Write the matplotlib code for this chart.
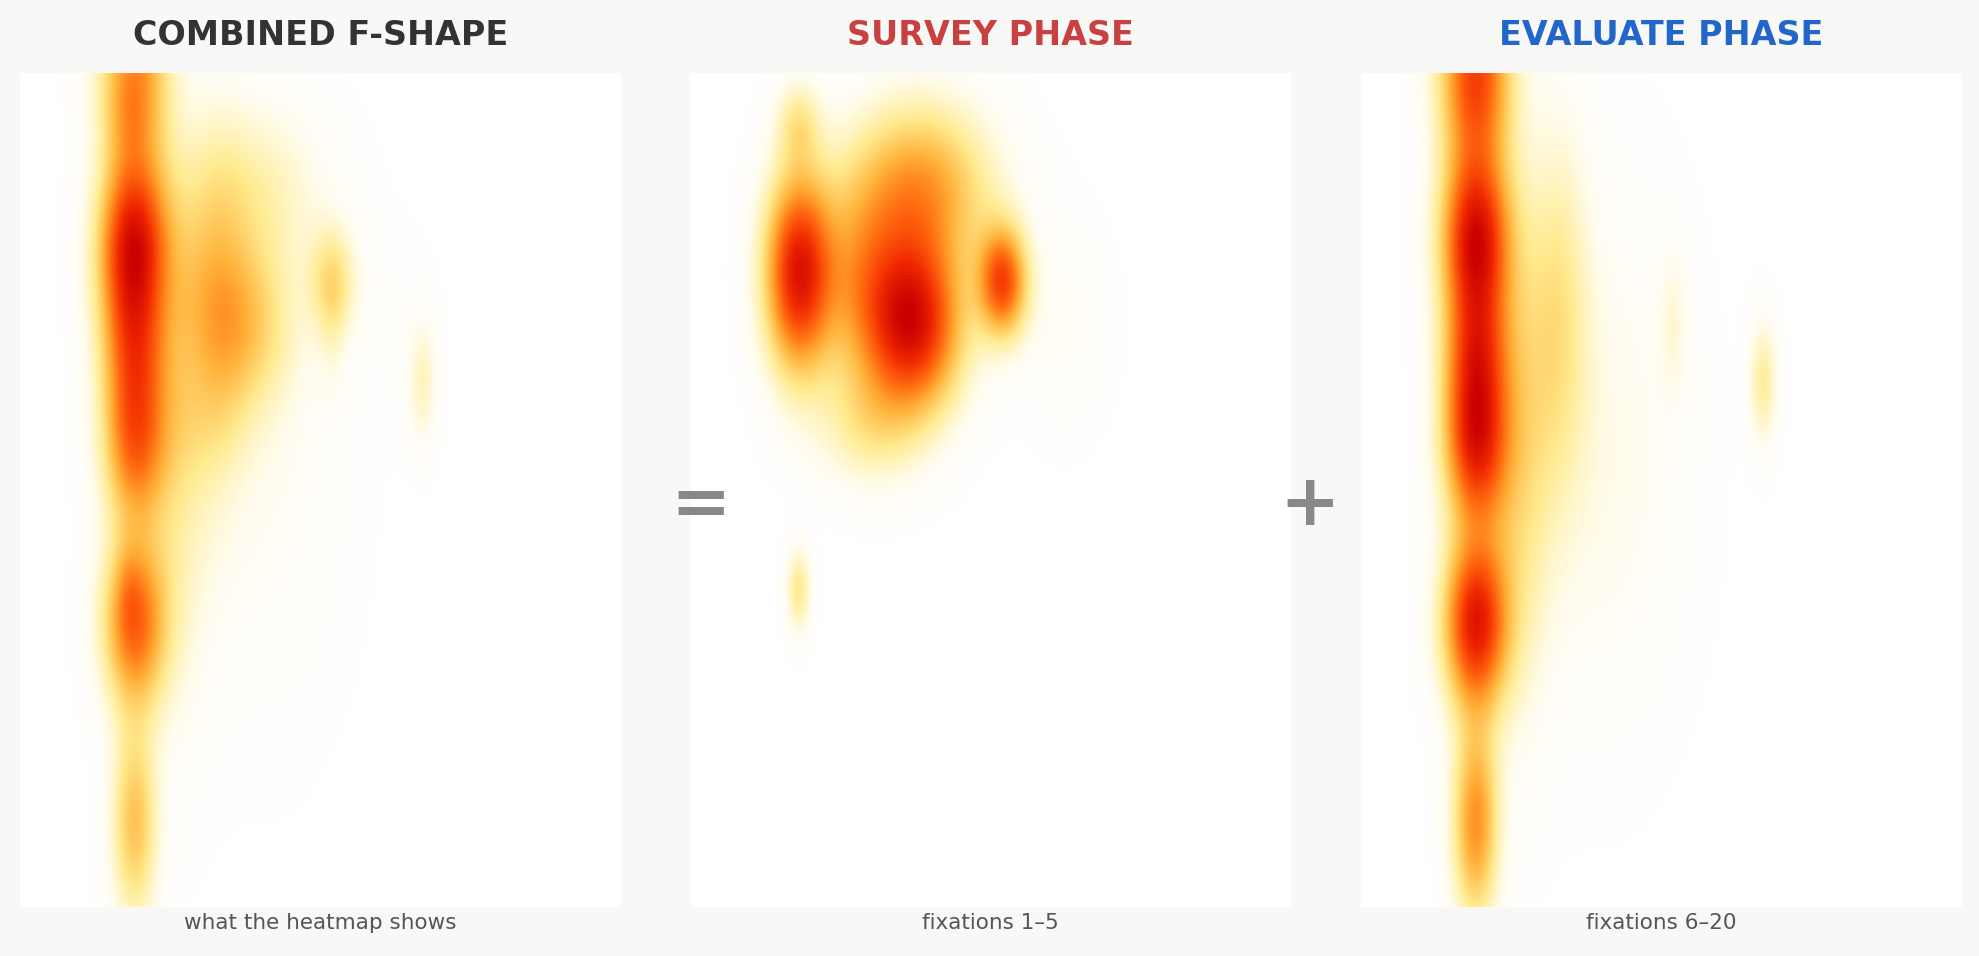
import numpy as np
import matplotlib
matplotlib.use("Agg")
import matplotlib.pyplot as plt
from matplotlib.colors import LinearSegmentedColormap

# Fixation blobs: x, y (fraction of panel, y from top), weight, sigma_x, sigma_y
survey_x = [0.18, 0.37, 0.52, 0.38, 0.18, 0.18, 0.30, 0.62, 0.28]
survey_y = [0.24, 0.30, 0.25, 0.14, 0.62, 0.06, 0.42, 0.30, 0.25]
survey_w = [1.00, 1.05, 0.80, 0.55, 0.25, 0.22, 0.22, 0.05, 0.35]
survey_sx = [0.038, 0.055, 0.028, 0.080, 0.014, 0.025, 0.06, 0.05, 0.05]
survey_sy = [0.080, 0.070, 0.045, 0.070, 0.035, 0.035, 0.05, 0.08, 0.08]

eval_x = [0.19, 0.19, 0.19, 0.19, 0.19, 0.19, 0.33, 0.67, 0.40, 0.52, 0.26]
eval_y = [0.00, 0.20, 0.44, 0.66, 0.90, 0.33, 0.29, 0.37, 0.45, 0.30, 0.45]
eval_w = [0.80, 1.00, 0.90, 0.95, 0.55, 0.55, 0.22, 0.22, 0.08, 0.10, 0.25]
eval_sx = [0.040, 0.038, 0.036, 0.036, 0.026, 0.036, 0.035, 0.016, 0.09, 0.016, 0.04]
eval_sy = [0.080, 0.070, 0.070, 0.070, 0.080, 0.060, 0.150, 0.050, 0.20, 0.060, 0.20]

titles = ["COMBINED F-SHAPE", "SURVEY PHASE", "EVALUATE PHASE"]
title_colors = ["#333333", "#c94040", "#2266cc"]
subtitles = ["what the heatmap shows", "fixations 1\u20135", "fixations 6\u201320"]
operators = ["=", "+"]

def field(xs, ys, ws, sxs, sys_):
    gx, gy = np.meshgrid(np.linspace(0, 1, 400), np.linspace(0, 1, 560))
    z = np.zeros_like(gx)
    for x, y, w, sx, sy in zip(xs, ys, ws, sxs, sys_):
        z += w * np.exp(-((gx - x) ** 2 / (2 * sx ** 2) + (gy - y) ** 2 / (2 * sy ** 2)))
    return z

zs = field(survey_x, survey_y, survey_w, survey_sx, survey_sy)
ze = field(eval_x, eval_y, eval_w, eval_sx, eval_sy)
zc = 0.45 * zs + ze
fields = [zc / zc.max(), zs / zs.max(), ze / ze.max()]

cmap = LinearSegmentedColormap.from_list("heat", [
    (0.0, "#ffffff"), (0.06, "#fffdf0"), (0.22, "#ffeb90"), (0.42, "#ffb038"),
    (0.6, "#ff6a10"), (0.8, "#f02800"), (1.0, "#c80000")])

fig = plt.figure(figsize=(19.79, 9.56), dpi=100)
fig.patch.set_facecolor("#f8f8f7")
lefts = [16 / 1568, 547 / 1568, 1078 / 1568]
w = 476 / 1568
b = 1 - 718 / 757
h = 660 / 757
for i in range(3):
    ax = fig.add_axes([lefts[i], b, w, h])
    ax.imshow(fields[i], cmap=cmap, vmin=0, vmax=1, extent=[0, 1, 1, 0],
              aspect="auto", interpolation="bilinear")
    ax.set_xlim(0, 1); ax.set_ylim(1, 0)
    ax.axis("off")
    cx = lefts[i] + w / 2
    fig.text(cx, 1 - 28 / 757, titles[i], ha="center", va="center",
             fontsize=24, fontweight="bold", color=title_colors[i])
    fig.text(cx, 1 - 731 / 757, subtitles[i], ha="center", va="center",
             fontsize=15.5, color="#555555")
for xpos, op in zip([555 / 1568, 1038 / 1568], operators):
    fig.text(xpos, 1 - 400 / 757, op, ha="center", va="center",
             fontsize=52, fontweight="bold", color="#888888")
fig.savefig("out.png", dpi=100, facecolor=fig.get_facecolor())
